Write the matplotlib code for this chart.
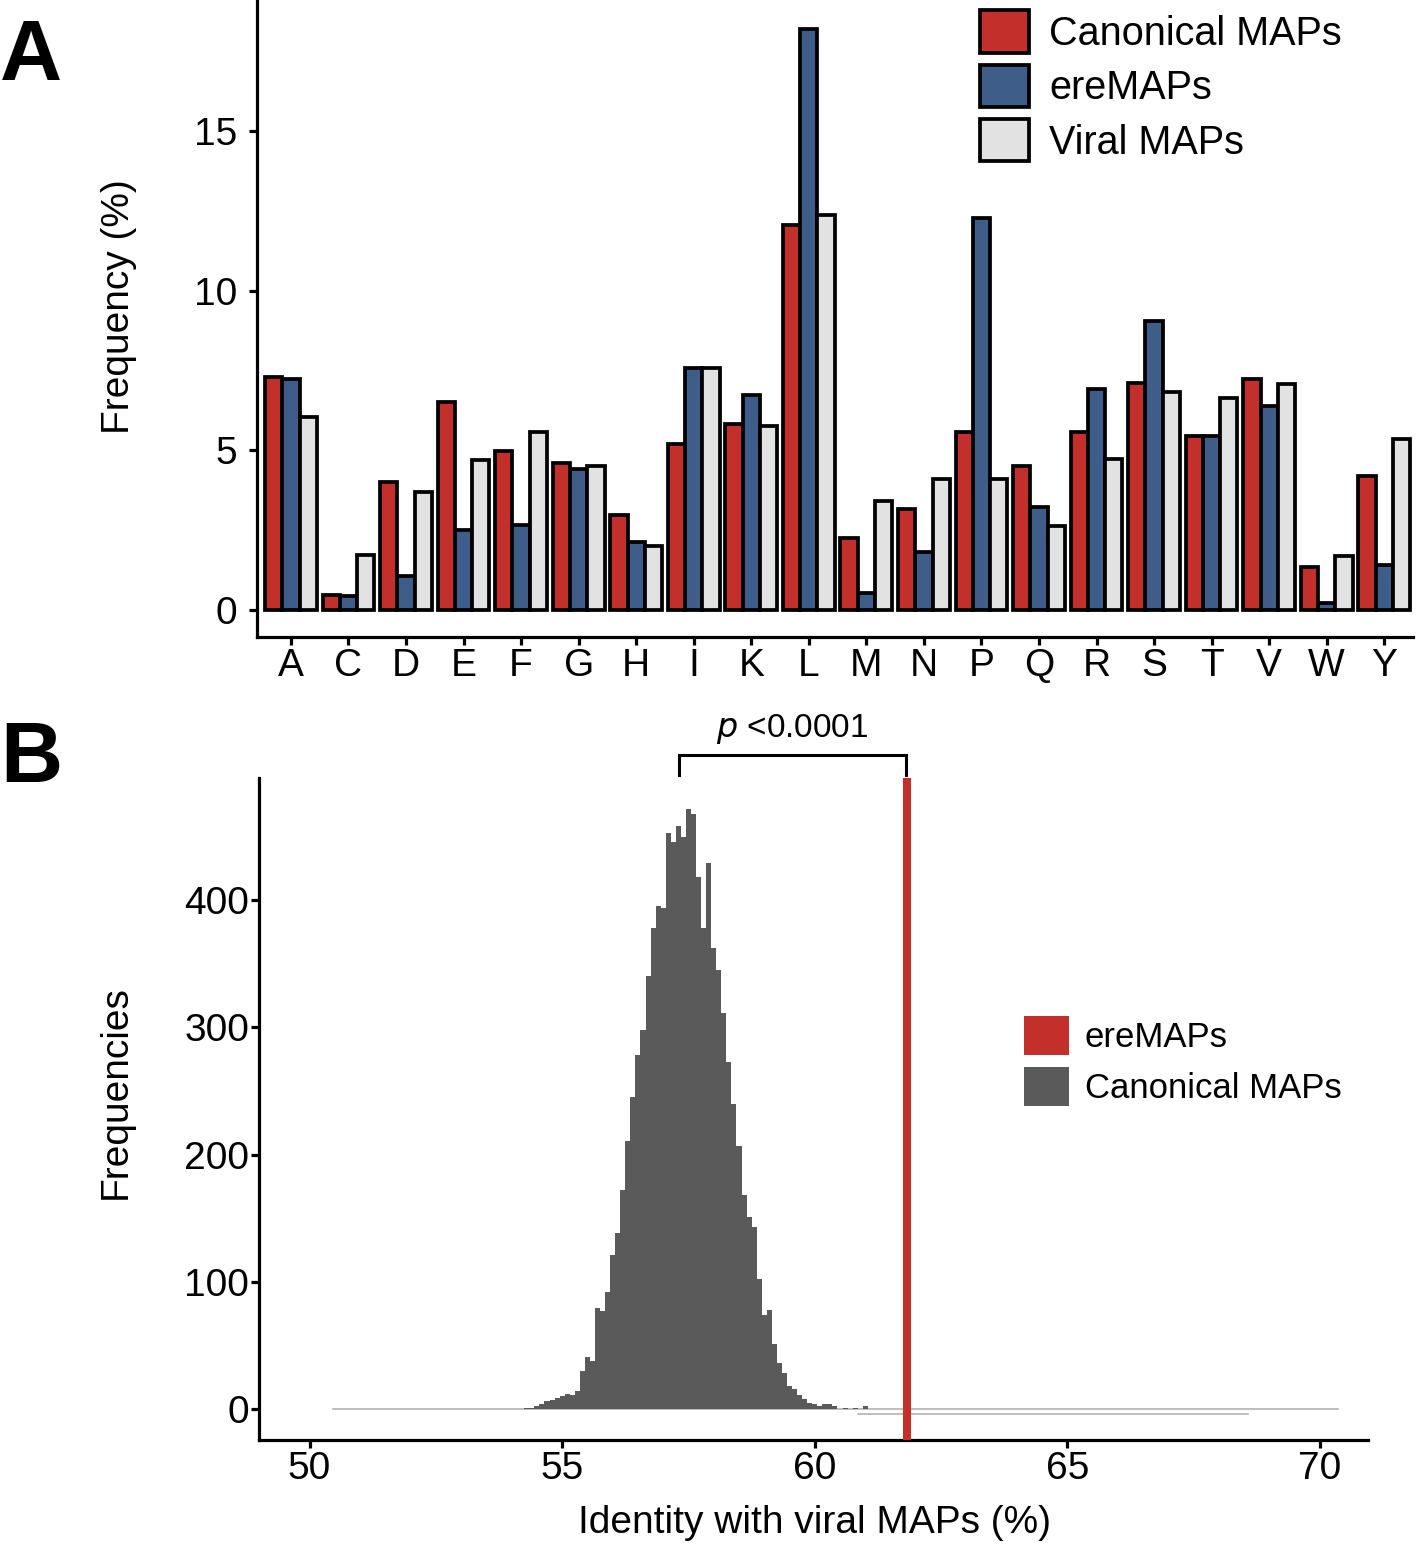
import matplotlib
matplotlib.use("Agg")
import matplotlib.pyplot as plt
from matplotlib.patches import Patch
import numpy as np

plt.rcParams['font.family'] = ['Liberation Sans', 'DejaVu Sans']

# --- panel A: amino acid frequencies (%)
aa = ["A", "C", "D", "E", "F", "G", "H", "I", "K", "L",
      "M", "N", "P", "Q", "R", "S", "T", "V", "W", "Y"]
canonical = [7.28, 0.48, 4.00, 6.51, 4.98, 4.61, 2.98, 5.21, 5.82, 12.04,
             2.26, 3.15, 5.58, 4.50, 5.58, 7.10, 5.45, 7.22, 1.34, 4.20]
eremaps = [7.24, 0.42, 1.07, 2.49, 2.67, 4.41, 2.14, 7.57, 6.72, 18.20,
           0.54, 1.82, 12.26, 3.21, 6.93, 9.05, 5.45, 6.40, 0.23, 1.41]
viral = [6.04, 1.72, 3.69, 4.68, 5.58, 4.52, 1.99, 7.57, 5.75, 12.38,
         3.42, 4.10, 4.10, 2.64, 4.74, 6.81, 6.64, 7.06, 1.68, 5.35]

# --- panel B: null distribution of identity with viral MAPs
bin_start = 54.25
bin_width = 0.1
counts = [1, 1, 2, 4, 6, 7, 9, 10, 12, 11, 14, 30, 41, 38, 79, 77, 92, 121,
          138, 172, 211, 245, 278, 298, 340, 378, 395, 394, 453, 446, 458,
          450, 472, 468, 418, 378, 429, 362, 345, 311, 273, 240, 207, 168,
          151, 143, 102, 74, 78, 51, 36, 28, 18, 16, 11, 8, 5, 4, 2, 4, 4,
          2, 0, 1, 0, 1, 0, 2]
eremaps_identity = 61.82
zero_line_1 = (50.46, 70.36)
zero_line_2 = (60.85, 68.57)

red = "#C3302C"
blue = "#3E5E89"
light = "#E2E2E2"
dark = "#5A5A5A"

fig = plt.figure(figsize=(14.18, 15.45), dpi=100)

# ---------------- A
axA = fig.add_axes([257/1418, 1 - 637/1545, (1413 - 257)/1418, 637/1545])
x = np.arange(len(aa))
w = 0.3
axA.bar(x - w, canonical, w, color=red, edgecolor="black", linewidth=2.7, label="Canonical MAPs")
axA.bar(x, eremaps, w, color=blue, edgecolor="black", linewidth=2.7, label="ereMAPs")
axA.bar(x + w, viral, w, color=light, edgecolor="black", linewidth=2.7, label="Viral MAPs")
axA.set_xlim(-0.59, 19.5)
axA.set_ylim(-0.85, 19.1)
axA.set_yticks([0, 5, 10, 15])
axA.set_xticks(x)
axA.set_xticklabels(aa)
axA.set_ylabel("Frequency (%)", fontsize=28)
axA.yaxis.set_label_coords(-0.104, 0.518)
axA.legend(loc="upper left", bbox_to_anchor=(0.62, 0.993), frameon=False, fontsize=28.5,
           handlelength=1.25, handleheight=1.27, labelspacing=0.3, handletextpad=0.5,
           borderaxespad=0, borderpad=0.15)

# ---------------- B
axB = fig.add_axes([259/1418, 1 - 1440/1545, (1368 - 259)/1418, (1440 - 778)/1545])
edges = bin_start + bin_width * np.arange(len(counts))
axB.bar(edges, counts, width=bin_width, align="edge", color=dark, edgecolor="none", zorder=2)
axB.plot(zero_line_1, [0, 0], color="#ABABAB", lw=1.1, zorder=1)
axB.plot(zero_line_2, [-4.2, -4.2], color="#ABABAB", lw=1.1, zorder=1)
axB.plot([eremaps_identity, eremaps_identity], [-24.4, 496], color=red, lw=5.8,
         solid_capstyle="butt", zorder=3)
axB.set_xlim(49.0, 70.95)
axB.set_ylim(-24.4, 496)
axB.set_xticks([50, 55, 60, 65, 70])
axB.set_yticks([0, 100, 200, 300, 400])
axB.set_xlabel("Identity with viral MAPs (%)", fontsize=28)
axB.xaxis.set_label_coords(0.501, -0.098)
axB.set_ylabel("Frequencies", fontsize=28)
axB.yaxis.set_label_coords(-0.113, 0.526)

# bracket with p-value
bx0, bx1 = 57.31, 61.80
axB.plot([bx0, bx0, bx1, bx1], [498, 514, 514, 498], color="black", lw=2.2,
         clip_on=False, solid_joinstyle="miter")
axB.text((bx0 + bx1) / 2, 521, r"$\it{p}$ <0.0001", ha="center", va="bottom",
         fontsize=24, clip_on=False)

handles = [Patch(facecolor=red, edgecolor="none", label="ereMAPs"),
           Patch(facecolor=dark, edgecolor="none", label="Canonical MAPs")]
axB.legend(handles=handles, loc="upper left", bbox_to_anchor=(0.69, 0.64), frameon=False,
           fontsize=25, handlelength=1.3, handleheight=1.35, labelspacing=0.33,
           handletextpad=0.44, borderaxespad=0, borderpad=0)

for ax in (axA, axB):
    for s in ("top", "right"):
        ax.spines[s].set_visible(False)
    for s in ("left", "bottom"):
        ax.spines[s].set_linewidth(2.3)
    ax.tick_params(axis="both", width=2.3, length=6, labelsize=28, color="black")
axA.tick_params(axis="y", pad=8)
axA.tick_params(axis="x", pad=2)
axB.tick_params(axis="y", pad=1)
axB.tick_params(axis="x", pad=2)

fig.text(0.0, 1 - 80/1545, "A", fontsize=62, fontweight="bold", va="baseline", ha="left")
fig.text(0.0, 1 - 782/1545, "B", fontsize=62, fontweight="bold", va="baseline", ha="left")

fig.savefig("out.png", dpi=100)
